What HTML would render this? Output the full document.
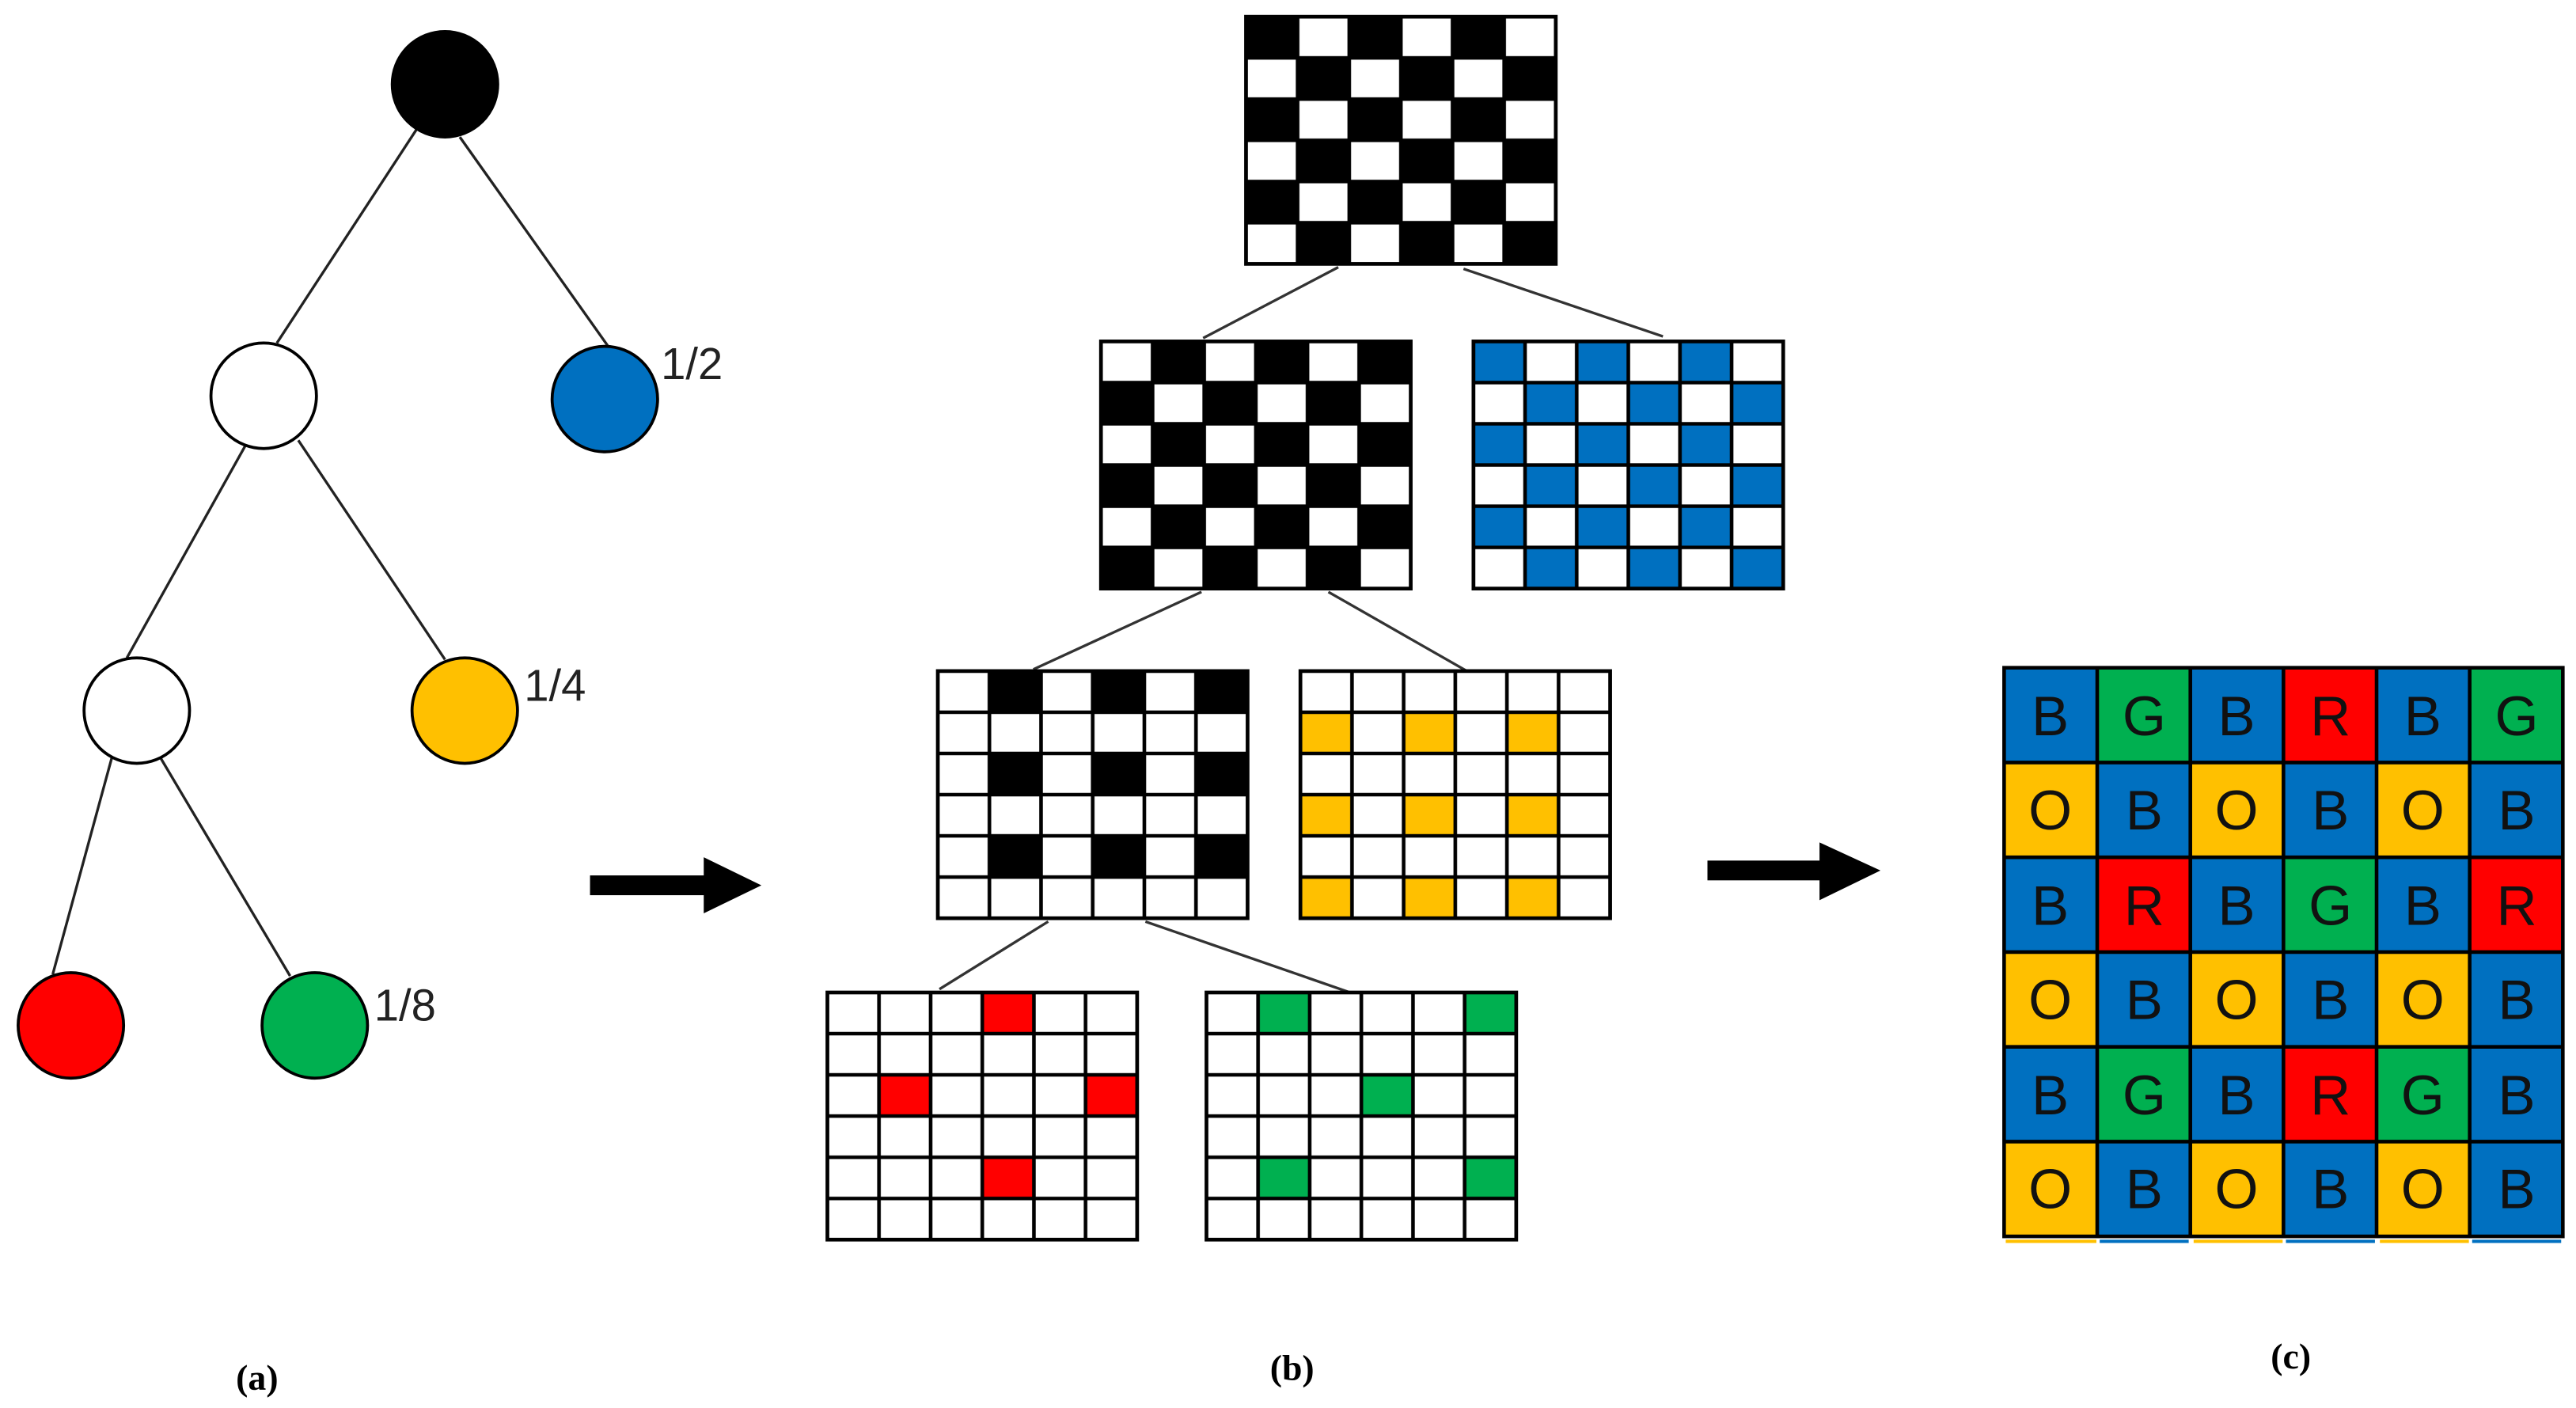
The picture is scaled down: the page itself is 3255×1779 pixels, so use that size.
<!DOCTYPE html>
<html><head><meta charset="utf-8"><style>html,body{margin:0;padding:0;background:#fff}svg{display:block}</style></head>
<body>
<svg width="3255" height="1779" viewBox="0 0 1563 854" xmlns="http://www.w3.org/2000/svg">
<defs>
<pattern id="cell" patternUnits="userSpaceOnUse" width="31.333" height="25"><path d="M0,0H31.333V25H0Z" fill="none" stroke="#000" stroke-width="2.2"/></pattern>
<pattern id="pA" patternUnits="userSpaceOnUse" width="62.667" height="50"><rect x="0" y="0" width="31.333" height="25" fill="#000"/><rect x="31.333" y="25" width="31.333" height="25" fill="#000"/></pattern>
<pattern id="pB" patternUnits="userSpaceOnUse" width="62.667" height="50"><rect x="31.333" y="0" width="31.333" height="25" fill="#000"/><rect x="0" y="25" width="31.333" height="25" fill="#000"/></pattern>
<pattern id="pBlue" patternUnits="userSpaceOnUse" width="62.667" height="50"><rect x="0" y="0" width="31.333" height="25" fill="#0070C0"/><rect x="31.333" y="25" width="31.333" height="25" fill="#0070C0"/></pattern>
<pattern id="pL3" patternUnits="userSpaceOnUse" width="62.667" height="50"><rect x="31.333" y="0" width="31.333" height="25" fill="#000"/></pattern>
<pattern id="pY" patternUnits="userSpaceOnUse" width="62.667" height="50"><rect x="0" y="25" width="31.333" height="25" fill="#FFC000"/></pattern>
</defs>
<rect width="1563" height="854" fill="#fff"/>

<!-- tree edges -->
<g stroke="#222" stroke-width="1.6">
<line x1="253" y1="78" x2="168" y2="208"/>
<line x1="279" y1="83" x2="369" y2="210"/>
<line x1="149" y1="270" x2="77" y2="399"/>
<line x1="181" y1="267" x2="270" y2="400"/>
<line x1="68" y1="459" x2="32" y2="591"/>
<line x1="97" y1="459" x2="176" y2="592"/>
</g>
<g stroke="#000" stroke-width="1.8">
<circle cx="270" cy="51" r="32" fill="#000"/>
<circle cx="160" cy="240" r="32" fill="#fff"/>
<circle cx="367" cy="242" r="32" fill="#0070C0"/>
<circle cx="83" cy="431" r="32" fill="#fff"/>
<circle cx="282" cy="431" r="32" fill="#FFC000"/>
<circle cx="43" cy="622" r="32" fill="#FF0000"/>
<circle cx="191" cy="622" r="32" fill="#00B050"/>
</g>
<g font-family="Liberation Sans, sans-serif" font-size="27" fill="#222">
<text x="401" y="230">1/2</text>
<text x="318" y="425">1/4</text>
<text x="227" y="619">1/8</text>
</g>

<!-- arrows -->
<rect x="358" y="531" width="72" height="12" fill="#000"/>
<polygon points="427,520 462,537 427,554" fill="#000"/>
<rect x="1036" y="522" width="70" height="12" fill="#000"/>
<polygon points="1104,511 1141,528 1104,546" fill="#000"/>

<!-- grid connectors -->
<g stroke="#333" stroke-width="1.6">
<line x1="812" y1="162" x2="730" y2="205"/>
<line x1="888" y1="163" x2="1009" y2="204"/>
<line x1="729" y1="359" x2="627" y2="406"/>
<line x1="806" y1="359" x2="890" y2="407"/>
<line x1="636" y1="559" x2="570" y2="600"/>
<line x1="695" y1="559" x2="822" y2="603"/>
</g>

<!-- grids -->
<g transform="translate(756,10)"><rect width="188" height="150" fill="#fff"/><rect width="188" height="150" fill="url(#pA)"/><rect width="188" height="150" fill="url(#cell)"/><rect width="188" height="150" fill="none" stroke="#000" stroke-width="2.2"/></g>
<g transform="translate(668,207)"><rect width="188" height="150" fill="#fff"/><rect width="188" height="150" fill="url(#pB)"/><rect width="188" height="150" fill="url(#cell)"/><rect width="188" height="150" fill="none" stroke="#000" stroke-width="2.2"/></g>
<g transform="translate(894,207)"><rect width="188" height="150" fill="#fff"/><rect width="188" height="150" fill="url(#pBlue)"/><rect width="188" height="150" fill="url(#cell)"/><rect width="188" height="150" fill="none" stroke="#000" stroke-width="2.2"/></g>
<g transform="translate(569,407)"><rect width="188" height="150" fill="#fff"/><rect width="188" height="150" fill="url(#pL3)"/><rect width="188" height="150" fill="url(#cell)"/><rect width="188" height="150" fill="none" stroke="#000" stroke-width="2.2"/></g>
<g transform="translate(789,407)"><rect width="188" height="150" fill="#fff"/><rect width="188" height="150" fill="url(#pY)"/><rect width="188" height="150" fill="url(#cell)"/><rect width="188" height="150" fill="none" stroke="#000" stroke-width="2.2"/></g>
<g transform="translate(502,602)"><rect width="188" height="150" fill="#fff"/>
<g fill="#FF0000"><rect x="94" y="0" width="31.333" height="25"/><rect x="31.333" y="50" width="31.333" height="25"/><rect x="156.667" y="50" width="31.333" height="25"/><rect x="94" y="100" width="31.333" height="25"/></g>
<rect width="188" height="150" fill="url(#cell)"/><rect width="188" height="150" fill="none" stroke="#000" stroke-width="2.2"/></g>
<g transform="translate(732,602)"><rect width="188" height="150" fill="#fff"/>
<g fill="#00B050"><rect x="31.333" y="0" width="31.333" height="25"/><rect x="156.667" y="0" width="31.333" height="25"/><rect x="94" y="50" width="31.333" height="25"/><rect x="31.333" y="100" width="31.333" height="25"/><rect x="156.667" y="100" width="31.333" height="25"/></g>
<rect width="188" height="150" fill="url(#cell)"/><rect width="188" height="150" fill="none" stroke="#000" stroke-width="2.2"/></g>

<!-- final grid -->
<g transform="translate(1216,405)">
<g>
<rect x="0" y="0" width="56.5" height="57.5" fill="#0070C0"/><rect x="56.5" y="0" width="56.5" height="57.5" fill="#00B050"/><rect x="113" y="0" width="56.5" height="57.5" fill="#0070C0"/><rect x="169.5" y="0" width="56.5" height="57.5" fill="#FF0000"/><rect x="226" y="0" width="56.5" height="57.5" fill="#0070C0"/><rect x="282.5" y="0" width="56.5" height="57.5" fill="#00B050"/>
<rect x="0" y="57.5" width="56.5" height="57.5" fill="#FFC000"/><rect x="56.5" y="57.5" width="56.5" height="57.5" fill="#0070C0"/><rect x="113" y="57.5" width="56.5" height="57.5" fill="#FFC000"/><rect x="169.5" y="57.5" width="56.5" height="57.5" fill="#0070C0"/><rect x="226" y="57.5" width="56.5" height="57.5" fill="#FFC000"/><rect x="282.5" y="57.5" width="56.5" height="57.5" fill="#0070C0"/>
<rect x="0" y="115" width="56.5" height="57.5" fill="#0070C0"/><rect x="56.5" y="115" width="56.5" height="57.5" fill="#FF0000"/><rect x="113" y="115" width="56.5" height="57.5" fill="#0070C0"/><rect x="169.5" y="115" width="56.5" height="57.5" fill="#00B050"/><rect x="226" y="115" width="56.5" height="57.5" fill="#0070C0"/><rect x="282.5" y="115" width="56.5" height="57.5" fill="#FF0000"/>
<rect x="0" y="172.5" width="56.5" height="57.5" fill="#FFC000"/><rect x="56.5" y="172.5" width="56.5" height="57.5" fill="#0070C0"/><rect x="113" y="172.5" width="56.5" height="57.5" fill="#FFC000"/><rect x="169.5" y="172.5" width="56.5" height="57.5" fill="#0070C0"/><rect x="226" y="172.5" width="56.5" height="57.5" fill="#FFC000"/><rect x="282.5" y="172.5" width="56.5" height="57.5" fill="#0070C0"/>
<rect x="0" y="230" width="56.5" height="57.5" fill="#0070C0"/><rect x="56.5" y="230" width="56.5" height="57.5" fill="#00B050"/><rect x="113" y="230" width="56.5" height="57.5" fill="#0070C0"/><rect x="169.5" y="230" width="56.5" height="57.5" fill="#FF0000"/><rect x="226" y="230" width="56.5" height="57.5" fill="#00B050"/><rect x="282.5" y="230" width="56.5" height="57.5" fill="#0070C0"/>
<rect x="0" y="287.5" width="56.5" height="57.5" fill="#FFC000"/><rect x="56.5" y="287.5" width="56.5" height="57.5" fill="#0070C0"/><rect x="113" y="287.5" width="56.5" height="57.5" fill="#FFC000"/><rect x="169.5" y="287.5" width="56.5" height="57.5" fill="#0070C0"/><rect x="226" y="287.5" width="56.5" height="57.5" fill="#FFC000"/><rect x="282.5" y="287.5" width="56.5" height="57.5" fill="#0070C0"/>
</g>
<g stroke="#000" stroke-width="2.2" fill="none">
<path d="M56.5,0V345M113,0V345M169.5,0V345M226,0V345M282.5,0V345M0,57.5H339M0,115H339M0,172.5H339M0,230H339M0,287.5H339"/>
<rect x="0" y="0" width="339" height="345"/>
</g>
<g font-family="Liberation Sans, sans-serif" font-size="34" fill="#111" text-anchor="middle">
<text x="28" y="41">B</text><text x="85" y="41">G</text><text x="141" y="41">B</text><text x="198" y="41">R</text><text x="254" y="41">B</text><text x="311" y="41">G</text>
<text x="28" y="98">O</text><text x="85" y="98">B</text><text x="141" y="98">O</text><text x="198" y="98">B</text><text x="254" y="98">O</text><text x="311" y="98">B</text>
<text x="28" y="156">B</text><text x="85" y="156">R</text><text x="141" y="156">B</text><text x="198" y="156">G</text><text x="254" y="156">B</text><text x="311" y="156">R</text>
<text x="28" y="213">O</text><text x="85" y="213">B</text><text x="141" y="213">O</text><text x="198" y="213">B</text><text x="254" y="213">O</text><text x="311" y="213">B</text>
<text x="28" y="271">B</text><text x="85" y="271">G</text><text x="141" y="271">B</text><text x="198" y="271">R</text><text x="254" y="271">G</text><text x="311" y="271">B</text>
<text x="28" y="328">O</text><text x="85" y="328">B</text><text x="141" y="328">O</text><text x="198" y="328">B</text><text x="254" y="328">O</text><text x="311" y="328">B</text>
</g>
<g>
<rect x="1" y="347" width="55" height="2" fill="#FFC000"/><rect x="58" y="347" width="54" height="2" fill="#0070C0"/><rect x="115" y="347" width="54" height="2" fill="#FFC000"/><rect x="171" y="347" width="54" height="2" fill="#0070C0"/><rect x="228" y="347" width="54" height="2" fill="#FFC000"/><rect x="284" y="347" width="54" height="2" fill="#0070C0"/>
</g>
</g>

<!-- captions -->
<g font-family="Liberation Serif, serif" font-weight="bold" font-size="22" fill="#000" text-anchor="middle">
<text x="156" y="843">(a)</text>
<text x="784" y="837">(b)</text>
<text x="1390" y="830">(c)</text>
</g>
</svg>
</body></html>
